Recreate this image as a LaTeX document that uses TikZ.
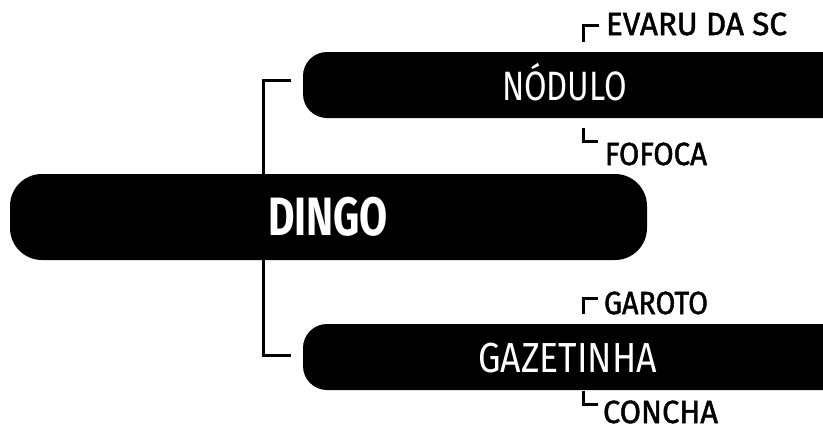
\documentclass[tikz,border=0pt]{standalone}
\usepackage{fontspec}
\setmainfont{Fira Sans}
\newfontfamily\lblfont{Fira Sans}[FakeBold=1.6]
\usepackage{graphicx}
\newcommand\fitw[3]{\resizebox{#1}{\height}{\fontsize{#2}{#2}\selectfont #3}}
\begin{document}
\begin{tikzpicture}[x=1pt,y=-1pt,
  bar/.style={fill=black,draw=none,inner sep=0pt,outer sep=0pt,anchor=north west},
  txt/.style={inner sep=0pt,outer sep=0pt,anchor=base west,text=white},
  lbl/.style={inner sep=0pt,outer sep=0pt,anchor=base west,text=black,font=\lblfont},
  conn/.style={line width=3pt,line cap=butt,line join=miter},
  tick/.style={line width=3pt,line cap=butt,line join=miter}]
\useasboundingbox (0,0) rectangle (823,437);
\begin{scope}
\clip (0,0) rectangle (823,437);
% bars
\node[bar,rounded corners=24pt,minimum width=560pt,minimum height=66pt] (nodulo) at (303,52) {};
\node[bar,rounded corners=24pt,minimum width=560pt,minimum height=66pt] (gazetinha) at (303,324) {};
\node[bar,rounded corners=32pt,minimum width=637pt,minimum height=86pt] (dingo) at (10,174) {};
\end{scope}
% bar texts
\node[txt] (dingoT) at (268,235) {\fitw{120pt}{54pt}{\bfseries DINGO}};
\node[txt] (noduloT) at (502,100) {\fitw{125pt}{41pt}{NÓDULO}};
\node[txt] (gazetinhaT) at (478,372) {\fitw{179pt}{42pt}{GAZETINHA}};
% labels
\node[lbl] (evaru) at (606,35) {\fitw{181pt}{32pt}{\lblfont EVARU DA SC}};
\node[lbl] (fofoca) at (605,165) {\fitw{102pt}{32pt}{\lblfont FOFOCA}};
\node[lbl] (garoto) at (604,314) {\fitw{104pt}{32pt}{\lblfont GAROTO}};
\node[lbl] (concha) at (603,423) {\fitw{115pt}{32pt}{\lblfont CONCHA}};
% tree connector
\coordinate (cTop) at (291,80);
\coordinate (cBot) at (291,355);
\draw[conn] (cTop) -- (263,80) -- (263,355) -- (cBot);
% label ticks
\draw[tick] (583,42) -- (583,25.5) -- (599,25.5);
\draw[tick] (583,128) -- (583,141.5) -- (598,141.5);
\draw[tick] (583,314) -- (583,298.5) -- (598,298.5);
\draw[tick] (583,391) -- (583,404.5) -- (598,404.5);
\end{tikzpicture}
\end{document}
